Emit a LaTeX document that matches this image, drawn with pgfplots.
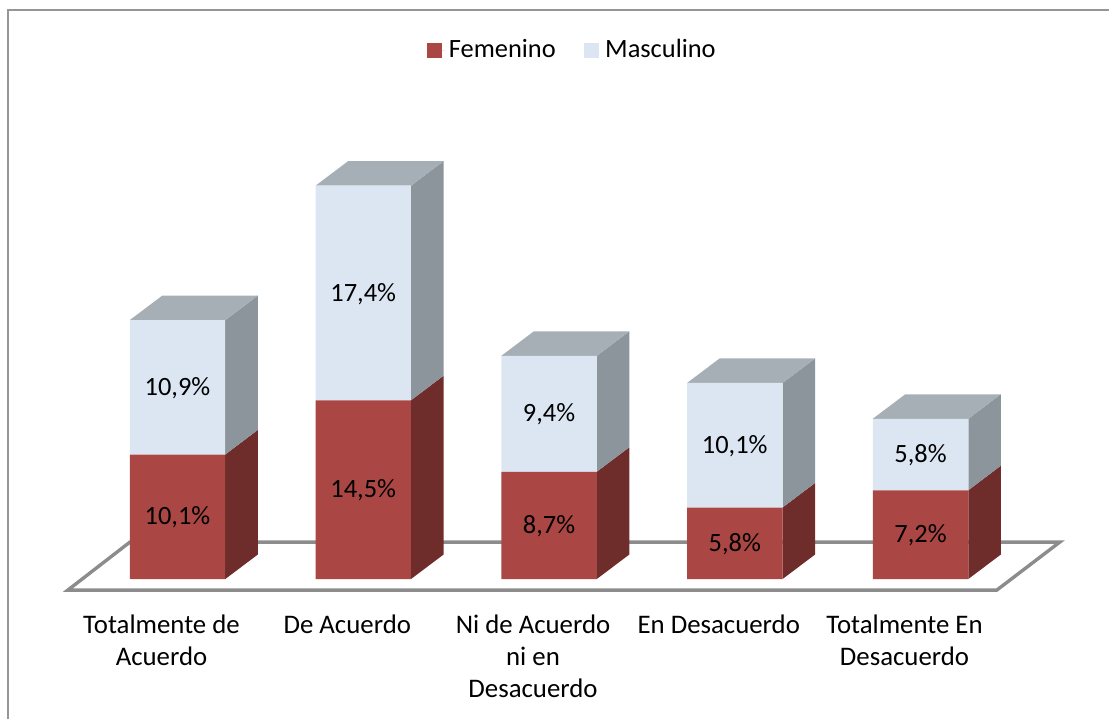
\documentclass[border=0pt]{standalone}
\usepackage{pgfplots}
\usepackage{fontspec}
\setmainfont{Carlito}
\pgfplotsset{compat=1.18}
\definecolor{redfront}{HTML}{AA4643}
\definecolor{redside}{HTML}{6E2C2A}
\definecolor{bluefront}{HTML}{DCE6F2}
\definecolor{blueside}{HTML}{8D959C}
\definecolor{bluetop}{HTML}{A7AFB6}
\definecolor{floorline}{HTML}{8C8C8C}
\definecolor{frameline}{HTML}{969696}
\pgfplotsset{
  base/.style={
    scale only axis, width=554.5pt, height=359.5pt,
    xmin=-0.9556, xmax=5.0148, ymin=-11.35, ymax=46.96,
  },
  face/.style={draw=none, no markers, fill=#1},
}
\begin{document}
\begin{tikzpicture}
% frame, floor and the side and top faces of the bars
\begin{axis}[base, hide axis]
\addplot[no markers, draw=frameline, line width=1pt] coordinates {(-0.91,-11.35)(-0.91,46.15)(5.0148,46.15)};
\addplot[no markers, draw=floorline, line width=1.7pt, line join=miter] coordinates {(-0.590,-0.892)(4.411,-0.892)(4.750,3.0)(-0.256,3.0)} --cycle;
% bar 1
\addplot[face=redside]  coordinates {(.257,0)(.432,1.987)(.432,12.087)(.257,10.1)} --cycle;
\addplot[face=blueside] coordinates {(.257,10.1)(.432,12.087)(.432,22.987)(.257,21)} --cycle;
\addplot[face=bluetop]  coordinates {(-.257,21)(-.082,22.987)(.432,22.987)(.257,21)} --cycle;
% bar 2
\addplot[face=redside]  coordinates {(1.257,0)(1.432,1.987)(1.432,16.487)(1.257,14.5)} --cycle;
\addplot[face=blueside] coordinates {(1.257,14.5)(1.432,16.487)(1.432,33.887)(1.257,31.9)} --cycle;
\addplot[face=bluetop]  coordinates {(.743,31.9)(.918,33.887)(1.432,33.887)(1.257,31.9)} --cycle;
% bar 3
\addplot[face=redside]  coordinates {(2.257,0)(2.432,1.987)(2.432,10.687)(2.257,8.7)} --cycle;
\addplot[face=blueside] coordinates {(2.257,8.7)(2.432,10.687)(2.432,20.087)(2.257,18.1)} --cycle;
\addplot[face=bluetop]  coordinates {(1.743,18.1)(1.918,20.087)(2.432,20.087)(2.257,18.1)} --cycle;
% bar 4
\addplot[face=redside]  coordinates {(3.257,0)(3.432,1.987)(3.432,7.787)(3.257,5.8)} --cycle;
\addplot[face=blueside] coordinates {(3.257,5.8)(3.432,7.787)(3.432,17.887)(3.257,15.9)} --cycle;
\addplot[face=bluetop]  coordinates {(2.743,15.9)(2.918,17.887)(3.432,17.887)(3.257,15.9)} --cycle;
% bar 5
\addplot[face=redside]  coordinates {(4.257,0)(4.432,1.987)(4.432,9.187)(4.257,7.2)} --cycle;
\addplot[face=blueside] coordinates {(4.257,7.2)(4.432,9.187)(4.432,14.987)(4.257,13)} --cycle;
\addplot[face=bluetop]  coordinates {(3.743,13)(3.918,14.987)(4.432,14.987)(4.257,13)} --cycle;
\end{axis}
% front faces of the stacked bars, legend and category labels
\begin{axis}[base,
  ybar stacked, bar width=0.514,
  axis line style={draw=none}, tick style={draw=none},
  ytick=\empty,
  xtick={0,1,2,3,4},
  xticklabels={{Totalmente de\\Acuerdo},{De Acuerdo},{Ni de Acuerdo\\ni en\\Desacuerdo},{En Desacuerdo},{Totalmente En\\Desacuerdo}},
  x tick label style={align=center, font=\fontsize{13.4}{16}\selectfont, anchor=north, xshift=-8pt, yshift=55.5pt},
  legend image code/.code={\fill[#1] (0pt,-3.75pt) rectangle (7.5pt,3.75pt); \path (0pt,0pt) -- (8.75pt,0pt);},
  legend columns=2,
  legend style={at={(axis cs:1.343,42.9)}, anchor=west, draw=none, fill=none,
    font=\fontsize{13.2}{15}\selectfont, inner sep=0pt,
    /tikz/every even column/.append style={column sep=12pt}},
]
\addplot[fill=redfront, draw=none] coordinates {(0,10.1)(1,14.5)(2,8.7)(3,5.8)(4,7.2)};
\addplot[fill=bluefront, draw=none] coordinates {(0,10.9)(1,17.4)(2,9.4)(3,10.1)(4,5.8)};
\legend{Femenino, Masculino}
\end{axis}
% data labels
\begin{axis}[base, hide axis,
  nodes near coords, point meta=explicit symbolic,
  nodes near coords align={center},
  every node near coord/.append style={font=\fontsize{13.2}{15}\selectfont, text=black, anchor=center, yshift=-0.4pt},
]
\addplot[draw=none, no markers] coordinates {(0,5.05)[10,1\%] (1,7.25)[14,5\%] (2,4.35)[8,7\%] (3,2.9)[5,8\%] (4,3.6)[7,2\%]};
\addplot[draw=none, no markers] coordinates {(0,15.55)[10,9\%] (1,23.2)[17,4\%] (2,13.4)[9,4\%] (3,10.85)[10,1\%] (4,10.1)[5,8\%]};
\end{axis}
\end{tikzpicture}
\end{document}
